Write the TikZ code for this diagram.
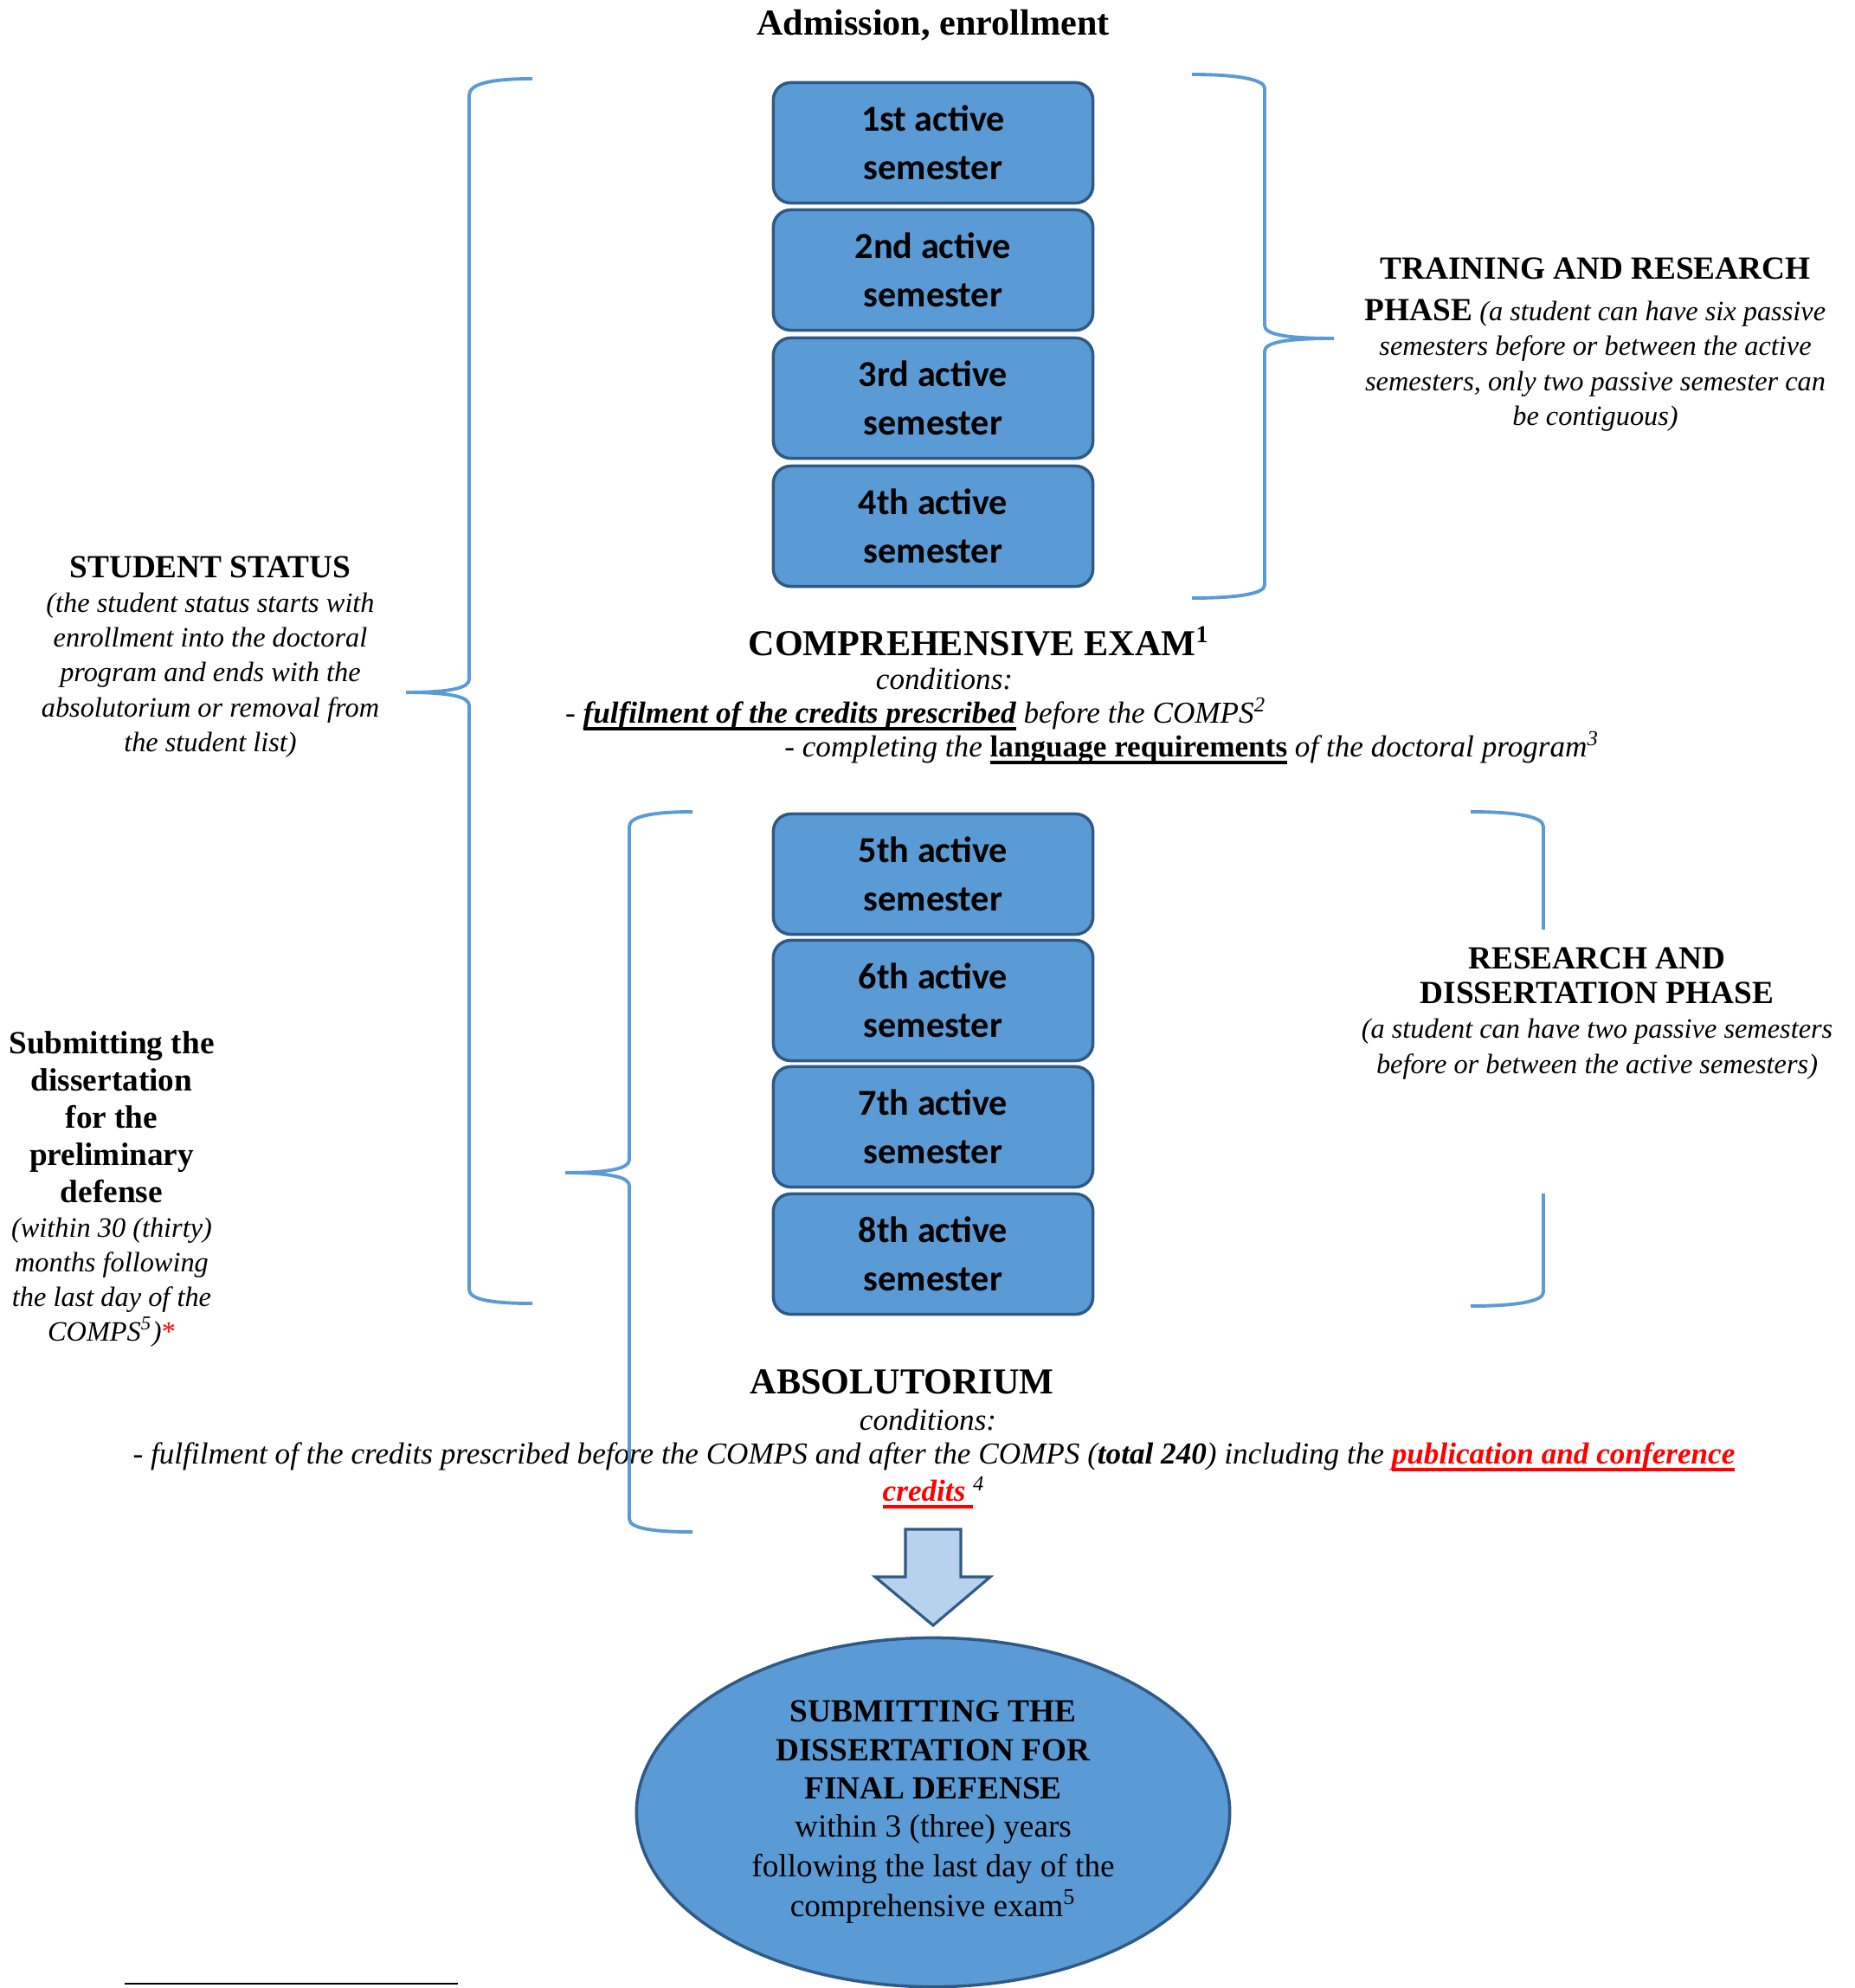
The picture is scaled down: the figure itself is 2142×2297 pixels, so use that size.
\documentclass[tikz,border=0pt]{standalone}
\usepackage{fontspec}
\setmainfont{Liberation Serif}
\newfontfamily\boxfont{Carlito}
\usetikzlibrary{shapes.geometric}
\definecolor{semfill}{HTML}{5B9BD5}
\definecolor{semdraw}{HTML}{2F5A88}
\definecolor{bracecol}{HTML}{5B9BD5}
\definecolor{arrowfill}{HTML}{B7D2EC}
\definecolor{linkred}{HTML}{FF0000}
\newcommand{\phasehead}[1]{{\upshape\bfseries\fontsize{10.6}{12.5}\selectfont #1}}
\newcommand{\thickul}[1]{\setbox0\hbox{#1}\leavevmode\rlap{\vrule height -1.3pt depth 2.4pt width \wd0}\box0}

\begin{document}
\begin{tikzpicture}[x=0.01cm,y=-0.01cm]
        %
        % `semester' is used for the rounded boxes.
        % `bracket' is used for the blue braces.
        % `sidetext' and `condtext' are used for the notes.
        \tikzstyle{semester} = [draw=semdraw,fill=semfill,line width=1pt,rounded corners=2mm,minimum width=3.69cm,minimum height=1.39cm,align=center,font=\boxfont\bfseries\fontsize{12}{16}\selectfont]
        \tikzstyle{bracket} = [draw=bracecol,line width=1.1pt]
        \tikzstyle{heading} = [inner sep=0pt,font=\bfseries\fontsize{12}{14}\selectfont]
        \tikzstyle{sidetext} = [inner sep=0pt,align=center,font=\itshape\fontsize{9.2}{11.4}\selectfont]
        \tikzstyle{condtext} = [inner sep=0pt,align=center,font=\itshape\fontsize{10}{12.3}\selectfont]
        %
        \useasboundingbox (0,0) rectangle (2142,2297);
        %
        % Title
        \node[heading] (admission) at (1078,29) {Admission, enrollment};
        %
        % Semesters before the COMPS
        \node[semester] (sem1) at (1078,165) {1st active\\semester};
        \node[semester] (sem2) at (1078,312) {2nd active\\semester};
        \node[semester] (sem3) at (1078,460) {3rd active\\semester};
        \node[semester] (sem4) at (1078,608) {4th active\\semester};
        %
        % Comprehensive exam
        \node[heading] (compexam) at (1131,741) {COMPREHENSIVE EXAM\textsuperscript{1}};
        \node[condtext] (compcond) at (1091,785) {conditions:};
        \node[condtext] (compreq1) at (1058,825) {- \textbf{\thickul{fulfilment of the credits prescribed}} before the COMPS\textsuperscript{2}};
        \node[condtext] (compreq2) at (1377,864) {- completing the \textbf{\upshape\thickul{language requirements}} of the doctoral program\textsuperscript{3}};
        %
        % Semesters after the COMPS
        \node[semester] (sem5) at (1078,1010) {5th active\\semester};
        \node[semester] (sem6) at (1078,1156) {6th active\\semester};
        \node[semester] (sem7) at (1078,1302) {7th active\\semester};
        \node[semester] (sem8) at (1078,1449) {8th active\\semester};
        %
        % Absolutorium
        \node[heading] (absolut) at (1042,1597) {ABSOLUTORIUM};
        \node[condtext] (abscond) at (1072,1641) {conditions:};
        \node[condtext] (absreq) at (1079,1705) {- fulfilment of the credits prescribed before the COMPS and after the COMPS (\textbf{total 240}) including the \textcolor{linkred}{\textbf{\thickul{publication and conference}}}\\ \textcolor{linkred}{\textbf{\thickul{credits\ }}}\textsuperscript{4}};
        %
        % Side notes
        \node[sidetext] (studstatus) at (243,759) {\phasehead{STUDENT STATUS}\\ (the student status starts with\\ enrollment into the doctoral\\ program and ends with the\\ absolutorium or removal from\\ the student list)};
        \node[sidetext] (trainphase) at (1843,398) {\phasehead{TRAINING AND RESEARCH}\\[2.3pt] \phasehead{PHASE} (a student can have six passive\\ semesters before or between the active\\ semesters, only two passive semester can\\ be contiguous)};
        \node[sidetext] (resphase) at (1845,1171) {\phasehead{RESEARCH AND}\\ \phasehead{DISSERTATION PHASE}\\ (a student can have two passive semesters\\ before or between the active semesters)};
        \node[sidetext] (prelim) at (129,1374) {\phasehead{Submitting the}\\[0.8pt] \phasehead{dissertation}\\[0.8pt] \phasehead{for the}\\[0.8pt] \phasehead{preliminary}\\[0.8pt] \phasehead{defense}\\ (within 30 (thirty)\\ months following\\ the last day of the\\ COMPS\textsuperscript{5})\textcolor{linkred}{\upshape*}};
        %
        % Brace: student status
        \draw[bracket] (615,91) .. controls (570,91) and (542,96) .. (542,110) -- (542,785)
            .. controls (542,795) and (520,800) .. (469,800)
            .. controls (520,800) and (542,805) .. (542,815) -- (542,1490)
            .. controls (542,1502) and (570,1506) .. (615,1506);
        % Brace: training and research phase
        \draw[bracket] (1377,86) .. controls (1430,86) and (1461,92) .. (1461,102) -- (1461,376)
            .. controls (1461,386) and (1483,391) .. (1541,391)
            .. controls (1483,391) and (1461,396) .. (1461,406) -- (1461,676)
            .. controls (1461,686) and (1430,691) .. (1377,691);
        % Brace: preliminary defense
        \draw[bracket] (800,938) .. controls (755,938) and (727,943) .. (727,955) -- (727,1340)
            .. controls (727,1350) and (705,1355) .. (653,1355)
            .. controls (705,1355) and (727,1360) .. (727,1370) -- (727,1755)
            .. controls (727,1766) and (755,1770) .. (800,1770);
        % Brace: research and dissertation phase (middle hidden by text)
        \draw[bracket] (1699,938) .. controls (1750,938) and (1783,943) .. (1783,955) -- (1783,1074);
        \draw[bracket] (1783,1379) -- (1783,1493) .. controls (1783,1504) and (1750,1509) .. (1699,1509);
        %
        % Block arrow
        \draw[draw=semdraw,fill=arrowfill,line width=0.9pt] (1046,1767) -- (1110,1767) -- (1110,1822) -- (1144,1822)
            -- (1078,1878) -- (1011,1822) -- (1046,1822) -- cycle;
        %
        % Final defense
        \node[ellipse,draw=semdraw,fill=semfill,line width=1pt,minimum width=6.85cm,minimum height=4.03cm,inner sep=0pt,align=center,font=\fontsize{10.6}{12.6}\selectfont] (finaldef) at (1078,2094)
            {\textbf{SUBMITTING THE}\\ \textbf{DISSERTATION FOR}\\ \textbf{FINAL DEFENSE}\\ within 3 (three) years\\[0.5pt] following the last day of the\\[0.5pt] comprehensive exam\textsuperscript{5}};
        %
        % Footnote rule
        \draw[black,line width=0.6pt] (144,2292) -- (529,2292);
        %
\end{tikzpicture}
\end{document}
